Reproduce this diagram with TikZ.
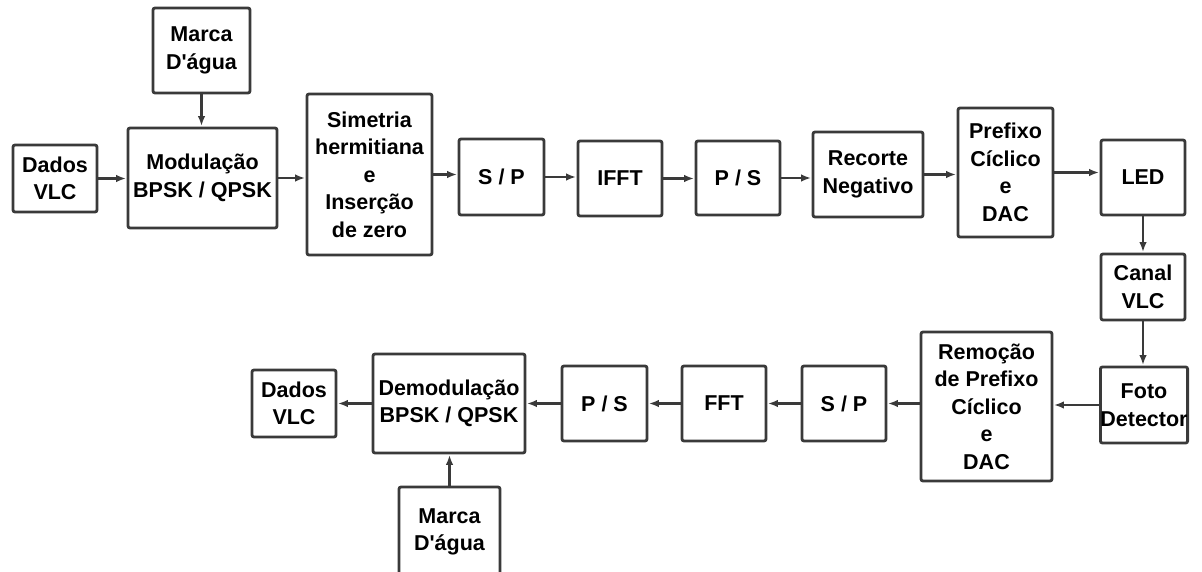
\documentclass[tikz,border=0pt]{standalone}
\usepackage{fontspec}
\setmainfont{Liberation Sans}[Ligatures=TeXOff]
\usetikzlibrary{arrows.meta}
\definecolor{ink}{HTML}{3A3A3A}
\tikzset{
  blk/.style={draw=ink, line width=2.8pt, rounded corners=2pt, fill=white,
    align=center, inner sep=0pt, text=black,
    font=\fontsize{21.5}{27.5}\selectfont\bfseries},
  flow/.style={draw=ink, line width=2.4pt,
    -{Latex[length=10pt,width=7.5pt]}, shorten >=0.5pt},
}
\begin{document}
\begin{tikzpicture}[x=1pt,y=-1pt]
\useasboundingbox[fill=white] (0,0) rectangle (1202,572);

% transmitter chain
\node[blk, minimum width=97pt, minimum height=85pt]  (marcaT) at (201.5,50.5) {Marca\\D'água};
\node[blk, minimum width=84pt, minimum height=67pt]  (dadosT) at (55,178.5) {Dados\\VLC};
\node[blk, minimum width=149pt, minimum height=100pt] (mod) at (202.5,178) {Modulação\\BPSK / QPSK};
\node[blk, minimum width=125pt, minimum height=161pt] (sim) at (369.5,174.5) {Simetria\\hermitiana\\e\\Inserção\\de zero};
\node[blk, minimum width=85pt, minimum height=76pt]  (sp1) at (501.5,177) {S / P};
\node[blk, minimum width=84pt, minimum height=75pt]  (ifft) at (620,178.5) {IFFT};
\node[blk, minimum width=84pt, minimum height=74pt]  (ps1) at (738,178) {P / S};
\node[blk, minimum width=110pt, minimum height=85pt] (rec) at (868,174.5) {Recorte\\Negativo};
\node[blk, minimum width=95pt, minimum height=129pt] (pref) at (1005.5,172.5) {Prefixo\\Cíclico\\e\\DAC};
\node[blk, minimum width=84pt, minimum height=75pt]  (led) at (1143,177.5) {LED};

% channel
\node[blk, minimum width=84pt, minimum height=66pt]  (canal) at (1143,287) {Canal\\VLC};

% receiver chain
\node[blk, minimum width=86pt, minimum height=76pt]  (foto) at (1144,405) {Foto\\Detector};
\node[blk, minimum width=131pt, minimum height=149pt] (rem) at (986.5,406.5) {Remoção\\de Prefixo\\Cíclico\\e\\DAC};
\node[blk, minimum width=84pt, minimum height=75pt]  (sp2) at (844,403.5) {S / P};
\node[blk, minimum width=84pt, minimum height=75pt]  (fft) at (724,403.5) {FFT};
\node[blk, minimum width=85pt, minimum height=75pt]  (ps2) at (604.5,403.5) {P / S};
\node[blk, minimum width=152pt, minimum height=99pt] (demod) at (449,403.5) {Demodulação\\BPSK / QPSK};
\node[blk, minimum width=84pt, minimum height=67pt]  (dadosB) at (294,403.5) {Dados\\VLC};
\node[blk, minimum width=101pt, minimum height=90pt] (marcaB) at (449.5,532) {Marca\\D'água};

% connectors
\draw[flow] (marcaT.south) -- (marcaT.south |- mod.north);
\draw[flow] (dadosT.east) -- (dadosT.east -| mod.west);
\draw[flow] (mod.east) -- (mod.east -| sim.west);
\draw[flow] (sim.east) -- (sim.east -| sp1.west);
\draw[flow] (sp1.east) -- (sp1.east -| ifft.west);
\draw[flow] (ifft.east) -- (ifft.east -| ps1.west);
\draw[flow] (ps1.east) -- (ps1.east -| rec.west);
\draw[flow] (rec.east) -- (rec.east -| pref.west);
\draw[flow] (pref.east) -- (pref.east -| led.west);
\draw[flow] (led.south) -- (led.south |- canal.north);
\draw[flow] (canal.south) -- (canal.south |- foto.north);
\draw[flow] (foto.west) -- (foto.west -| rem.east);
\draw[flow] (rem.west |- sp2.east) -- (sp2.east);
\draw[flow] (sp2.west) -- (sp2.west -| fft.east);
\draw[flow] (fft.west) -- (fft.west -| ps2.east);
\draw[flow] (ps2.west) -- (ps2.west -| demod.east);
\draw[flow] (demod.west |- dadosB.east) -- (dadosB.east);
\draw[flow] (marcaB.north) -- (marcaB.north |- demod.south);
\end{tikzpicture}
\end{document}
